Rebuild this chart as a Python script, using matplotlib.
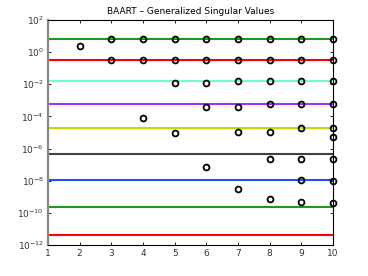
import numpy as np
import matplotlib
matplotlib.use("Agg")
import matplotlib.pyplot as plt
from matplotlib.ticker import FixedLocator, NullLocator

# singular values drawn as horizontal lines
sing_vals = [6.6, 0.32, 0.016, 5.9e-4, 1.9e-5, 4.8e-7, 1.1e-8, 2.3e-10, 4.4e-12]
line_colors = ['#1f9a1f', '#ff0000', '#70ffcc', '#a030ff', '#b8e000',
               '#404040', '#2050ff', '#1f9a1f', '#ff0000']

# generalized singular values for each problem size n
sizes = [2, 3, 4, 5, 6, 7, 8, 9, 10]
gen_vals = [
    [2.4],
    [6.6, 0.32],
    [6.6, 0.32, 8e-5],
    [6.6, 0.32, 0.012, 8.9e-6],
    [6.6, 0.32, 0.0115, 4e-4, 7.4e-8],
    [6.6, 0.32, 0.016, 3.7e-4, 1.1e-5, 3.2e-9],
    [6.6, 0.32, 0.016, 5.9e-4, 1.1e-5, 2.3e-7, 7.3e-10],
    [6.6, 0.32, 0.016, 5.9e-4, 1.9e-5, 2.3e-7, 1.1e-8, 4.5e-10],
    [6.6, 0.32, 0.016, 5.9e-4, 1.9e-5, 5e-6, 2.3e-7, 1e-8, 4.4e-10],
]

fig = plt.figure(figsize=(3.68, 2.76), dpi=100)
ax = fig.add_axes([0.1304, 0.1123, 0.7746, 0.8152])

x_lo, x_hi = 1, 10
for val, col in zip(sing_vals, line_colors):
    ax.plot([x_lo, x_hi], [val, val], color=col, lw=1.5, zorder=2)

for n, vals in zip(sizes, gen_vals):
    ax.plot([n] * len(vals), vals, 'o', mfc='none', mec='black',
            ms=4.2, mew=1.3, zorder=3, clip_on=False)

ax.set_yscale('log')
ax.set_xlim(1, 10)
ax.set_ylim(1e-12, 1e2)
ax.xaxis.set_major_locator(FixedLocator(range(1, 11)))
ax.yaxis.set_major_locator(FixedLocator([10.0 ** e for e in range(-12, 3, 2)]))
ax.yaxis.set_minor_locator(NullLocator())
ax.set_yticklabels([r'$10^{%d}$' % e for e in range(-12, 3, 2)])

ax.tick_params(direction='in', length=2.5, width=0.6, labelsize=6.5,
               labelcolor='#333333', top=True, right=True, pad=3)
for s in ['top', 'right', 'bottom']:
    ax.spines[s].set_linewidth(0.8)
    ax.spines[s].set_color('black')
ax.spines['left'].set_color('#888888')
ax.spines['left'].set_linewidth(1.6)

ax.set_title('BAART – Generalized Singular Values', fontsize=6.5, pad=4)

fig.savefig('out.png', dpi=100)
